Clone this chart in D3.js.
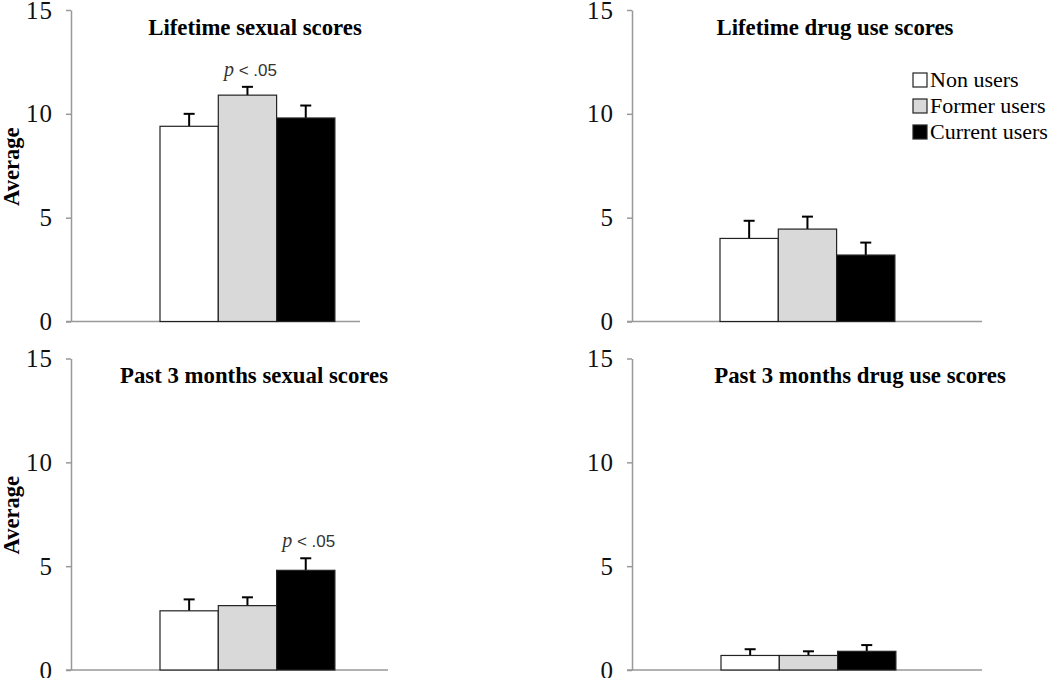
<!doctype html>
<html lang="en">
<head>
 <meta charset="utf-8">
 <script src="https://cdn.jsdelivr.net/npm/d3@7"></script>
 <title>Scores by user group</title>
 <style>
  body { margin: 0; background: #fff; }
  svg { display: block; }
  .tick text { font-family: "Liberation Serif", "Times New Roman", serif; font-size: 25px; fill: #111; letter-spacing: 1px; }
  .axis path, .axis line, .xline { stroke: #999; stroke-width: 1.5; }
  .title { font-family: "Liberation Serif", serif; font-weight: bold; font-size: 22.8px; fill: #000; }
  .ylab { font-family: "Liberation Serif", serif; font-weight: bold; font-size: 22.5px; fill: #000; }
  .legend text { font-family: "Liberation Serif", serif; font-size: 22px; fill: #000; }
  .sig { fill: #333; }
 </style>
</head>
<body>
<div id="chart"></div>

<script>
    // data
    var groups = ["Non users", "Former users", "Current users"];
    var titles = ["Lifetime sexual scores", "Lifetime drug use scores",
                  "Past 3 months sexual scores", "Past 3 months drug use scores"];
    var lifetimeSexual = [9.4, 10.9, 9.8];
    var lifetimeDrug   = [4.0, 4.45, 3.2];
    var pastSexual     = [2.85, 3.1, 4.8];
    var pastDrug       = [0.7, 0.7, 0.9];
    var lifetimeSexualErr = [0.6, 0.4, 0.6];
    var lifetimeDrugErr   = [0.85, 0.6, 0.6];
    var pastSexualErr     = [0.55, 0.4, 0.58];
    var pastDrugErr       = [0.3, 0.2, 0.3];
    var yTicks = [0, 5, 10, 15];
    var sigGroup = ["Former users", null, "Current users", null];
    var sigText = "p < .05";

    var means  = [lifetimeSexual, lifetimeDrug, pastSexual, pastDrug];
    var errors = [lifetimeSexualErr, lifetimeDrugErr, pastSexualErr, pastDrugErr];

    // layout of the four panels
    var panels = [
      {ax: 71,  end: 360, bars: 160, top: 10,    bottom: 321.5, tx: 255, ty: 35,  ylab: true},
      {ax: 632, end: 982, bars: 720, top: 10,    bottom: 321.5, tx: 835, ty: 35,  ylab: false},
      {ax: 71,  end: 388, bars: 160, top: 358.5, bottom: 670,   tx: 254, ty: 383, ylab: true},
      {ax: 632, end: 982, bars: 721, top: 358.5, bottom: 670,   tx: 860, ty: 383, ylab: false}
    ];
    var barW = 58.3;
    var fills = {"Non users": "#ffffff", "Former users": "#d9d9d9", "Current users": "#000000"};

    var svg = d3.select("#chart").append("svg")
        .attr("width", 1050)
        .attr("height", 678);

    panels.forEach(function (p, i) {
        var g = svg.append("g");

        var y = d3.scaleLinear().domain([0, 15]).range([p.bottom, p.top]);
        var x = d3.scaleBand().domain(groups)
            .range([p.bars, p.bars + barW * groups.length]);

        // y axis
        g.append("g")
            .attr("class", "axis")
            .attr("transform", "translate(" + p.ax + ",0)")
            .call(d3.axisLeft(y).tickValues(yTicks).tickSize(5).tickSizeOuter(0).tickPadding(14))
            .call(function (a) { a.selectAll(".tick text").attr("dx", "1px"); });

        // x axis line
        g.append("line")
            .attr("class", "xline")
            .attr("x1", p.ax - 5)
            .attr("x2", p.end)
            .attr("y1", y(0))
            .attr("y2", y(0));

        var rows = groups.map(function (k, j) {
            return {group: k, mean: means[i][j], err: errors[i][j]};
        });

        // error bars (upper only)
        var eb = g.selectAll(".err").data(rows).enter().append("g").attr("class", "err");
        eb.append("line")
            .attr("x1", function (d) { return x(d.group) + x.bandwidth() / 2; })
            .attr("x2", function (d) { return x(d.group) + x.bandwidth() / 2; })
            .attr("y1", function (d) { return y(d.mean); })
            .attr("y2", function (d) { return y(d.mean + d.err); })
            .attr("stroke", "#000").attr("stroke-width", 2);
        eb.append("line")
            .attr("x1", function (d) { return x(d.group) + x.bandwidth() / 2 - 5.5; })
            .attr("x2", function (d) { return x(d.group) + x.bandwidth() / 2 + 5.5; })
            .attr("y1", function (d) { return y(d.mean + d.err); })
            .attr("y2", function (d) { return y(d.mean + d.err); })
            .attr("stroke", "#000").attr("stroke-width", 2);

        // bars
        g.selectAll(".bar").data(rows).enter().append("rect")
            .attr("class", "bar")
            .attr("x", function (d) { return x(d.group); })
            .attr("width", x.bandwidth())
            .attr("y", function (d) { return y(d.mean); })
            .attr("height", function (d) { return y(0) - y(d.mean); })
            .attr("fill", function (d) { return fills[d.group]; })
            .attr("stroke", "#222")
            .attr("stroke-width", 1.2);

        // title
        g.append("text")
            .attr("class", "title")
            .attr("x", p.tx)
            .attr("y", p.ty)
            .attr("text-anchor", "middle")
            .text(titles[i]);

        // y label
        if (p.ylab) {
            g.append("text")
                .attr("class", "ylab")
                .attr("transform", "translate(19," + ((p.top + p.bottom) / 2 + 1) + ") rotate(-90)")
                .attr("text-anchor", "middle")
                .text("Average");
        }

        // significance note
        if (sigGroup[i]) {
            var r = rows.filter(function (d) { return d.group === sigGroup[i]; })[0];
            var t = g.append("text")
                .attr("class", "sig")
                .attr("x", x(r.group) + x.bandwidth() / 2 + 3)
                .attr("y", y(r.mean + r.err) - 11)
                .attr("text-anchor", "middle");
            t.append("tspan")
                .attr("font-family", "Liberation Serif, serif")
                .attr("font-style", "italic")
                .attr("font-size", "20px")
                .text(sigText.split(" ")[0]);
            t.append("tspan")
                .attr("font-family", "Liberation Sans, Arial, sans-serif")
                .attr("font-size", "17px")
                .text(" " + sigText.split(" ").slice(1).join(" "));
        }
    });

    // legend
    var legend = svg.append("g").attr("class", "legend")
        .attr("transform", "translate(913,73)");
    var items = legend.selectAll(".item").data(groups).enter().append("g")
        .attr("class", "item")
        .attr("transform", function (d, i) { return "translate(0," + i * 26 + ")"; });
    items.append("rect")
        .attr("width", 14)
        .attr("height", 14)
        .attr("fill", function (d) { return fills[d]; })
        .attr("stroke", "#222")
        .attr("stroke-width", 1.2);
    items.append("text")
        .attr("x", 17)
        .attr("y", 14)
        .text(function (d) { return d; });
</script>
</body>
</html>
